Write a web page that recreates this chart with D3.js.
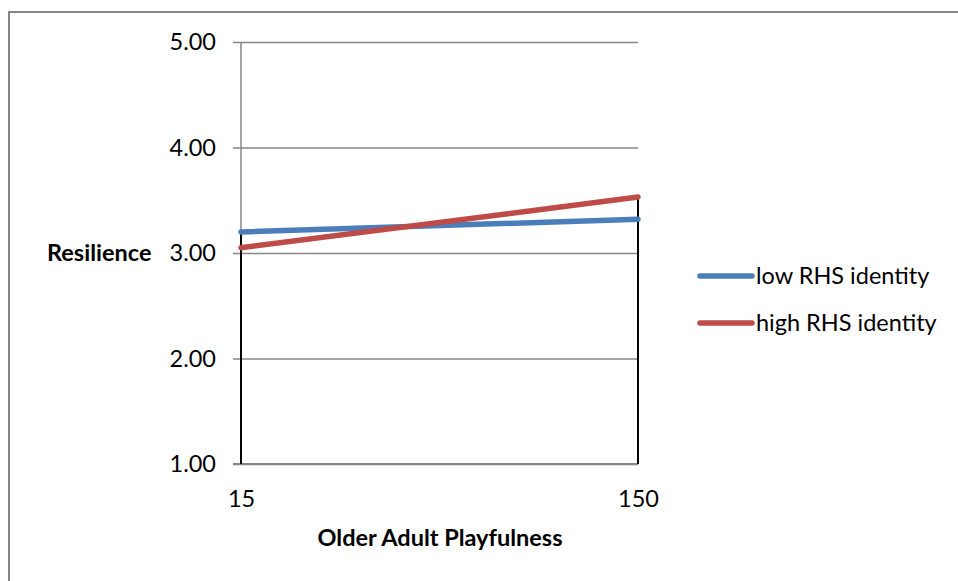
<!DOCTYPE html>
<html>
<head>
<meta charset="utf-8">
<script src="https://cdn.jsdelivr.net/npm/d3@7"></script>
<style>
  html, body { margin: 0; padding: 0; background: #fff; }
  svg { display: block; font-family: Lato, "Open Sans", sans-serif; }
</style>
</head>
<body>
<svg id="chart" width="958" height="581"></svg>
<script>
// Simple-slopes data: resilience at low/high playfulness for two identity groups
const categories = ["15", "150"];
const lowIdentity = [3.20, 3.32];
const highIdentity = [3.05, 3.53];
const seriesNames = ["low RHS identity", "high RHS identity"];
const yTicks = [1, 2, 3, 4, 5];
const colors = ["#4a7ebb", "#be4b48"];

const FS = 23.5;
const svg = d3.select("#chart");

// outer chart frame
svg.append("rect")
  .attr("x", 9).attr("y", 12)
  .attr("width", 958).attr("height", 581)
  .attr("fill", "none").attr("stroke", "#868686").attr("stroke-width", 2);

const x = d3.scalePoint().domain(categories).range([241, 638]);
const y = d3.scaleLinear().domain([1, 5]).range([464, 42]);

// gridlines with tick stubs to the left of the value axis
const gy = svg.append("g").attr("transform", "translate(638,0)");
gy.call(d3.axisLeft(y).tickValues(yTicks).tickSize(638 - 233).tickFormat(""));
gy.select(".domain").remove();
gy.selectAll(".tick line").attr("stroke", "#868686").attr("stroke-width", 1.5);

// tick labels
svg.append("g").selectAll("text").data(yTicks).join("text")
  .attr("x", 216).attr("y", d => y(d)).attr("dy", "0.35em")
  .attr("text-anchor", "end").attr("font-size", FS).attr("fill", "#000")
  .text(d => d3.format(".2f")(d));

// value axis line
svg.append("line")
  .attr("x1", 241).attr("x2", 241).attr("y1", y(5)).attr("y2", y(1))
  .attr("stroke", "#868686").attr("stroke-width", 1.5);

// category axis
const gx = svg.append("g").attr("transform", `translate(0,${y(1)})`)
  .call(d3.axisBottom(x).tickSize(0).tickPadding(0));
gx.select(".domain").attr("stroke", "#868686").attr("stroke-width", 2)
  .attr("d", `M${233},0H${638}`);
gx.selectAll(".tick text").attr("font-size", FS).attr("fill", "#000")
  .attr("font-family", "Lato, 'Open Sans', sans-serif")
  .attr("dy", null).attr("y", 43);

// drop lines from the highest point of each category
categories.forEach((c, i) => {
  const top = Math.max(lowIdentity[i], highIdentity[i]);
  svg.append("line")
    .attr("x1", x(c)).attr("x2", x(c)).attr("y1", y(top)).attr("y2", y(1))
    .attr("stroke", "#000").attr("stroke-width", 2);
});

// series lines
const line = d3.line().x((d, i) => x(categories[i])).y(d => y(d));
[lowIdentity, highIdentity].forEach((s, k) => {
  svg.append("path").datum(s)
    .attr("d", line).attr("fill", "none")
    .attr("stroke", colors[k]).attr("stroke-width", 5.5).attr("stroke-linecap", "round");
});

// axis titles
svg.append("text").attr("x", 47).attr("y", y(3)).attr("dy", "0.35em")
  .attr("font-size", FS).attr("font-weight", "bold").text("Resilience");
svg.append("text").attr("x", 440).attr("y", 546)
  .attr("text-anchor", "middle").attr("font-size", FS).attr("font-weight", "bold")
  .text("Older Adult Playfulness");

// legend
const lg = svg.append("g");
seriesNames.forEach((n, k) => {
  const ly = 276 + k * 47;
  lg.append("line").attr("x1", 700).attr("x2", 752).attr("y1", ly).attr("y2", ly)
    .attr("stroke", colors[k]).attr("stroke-width", 5.5).attr("stroke-linecap", "round");
  lg.append("text").attr("x", 756).attr("y", ly).attr("dy", "0.35em")
    .attr("font-size", FS).text(n);
});
</script>
</body>
</html>
